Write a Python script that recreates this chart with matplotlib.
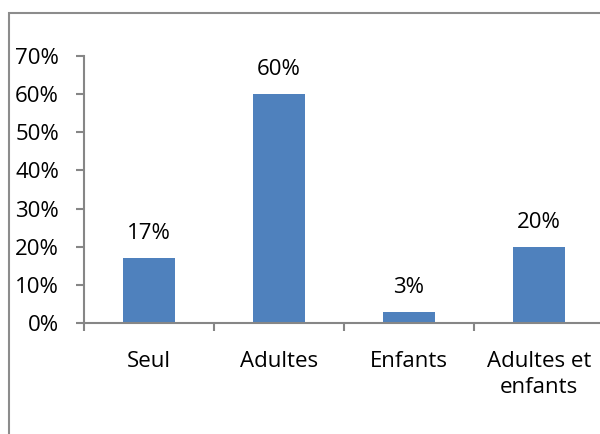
import matplotlib
matplotlib.use("Agg")
import matplotlib.pyplot as plt
from matplotlib.patches import Rectangle
import numpy as np

categories = ["Seul", "Adultes", "Enfants", "Adultes et\nenfants"]
values = [0.17, 0.60, 0.03, 0.20]
value_labels = ["17%", "60%", "3%", "20%"]
yticks = [0, 0.1, 0.2, 0.3, 0.4, 0.5, 0.6, 0.7]
ytick_labels = ["0%", "10%", "20%", "30%", "40%", "50%", "60%", "70%"]

plt.rcParams['font.family'] = ['Open Sans', 'DejaVu Sans']
fig = plt.figure(figsize=(6, 4.34), dpi=100)
ax = fig.add_axes([84/600, 111/434, 520/600, (323-56)/434])

x = np.arange(len(categories))
ax.bar(x, values, width=0.4, color="#4F81BD", zorder=2)
ax.set_xlim(-0.5, len(categories) - 0.5)
ax.set_ylim(0, 0.7)

for xi, v, lab in zip(x, values, value_labels):
    ax.annotate(lab, (xi, v), xytext=(0, 10), textcoords="offset points",
                ha="center", va="bottom", fontsize=16, color="black")

gray = "#868686"
for s in ["top", "right"]:
    ax.spines[s].set_visible(False)
for s in ["left", "bottom"]:
    ax.spines[s].set_color(gray)
    ax.spines[s].set_linewidth(1.5)
    ax.spines[s].set_clip_on(False)

ax.set_yticks(yticks)
ax.set_yticklabels(ytick_labels, fontsize=16)
ax.tick_params(axis="y", length=6, width=1.5, color=gray, pad=12)

ax.set_xticks(np.arange(-0.5, len(categories), 1.0))
ax.set_xticklabels([])
ax.set_xticks(x, minor=True)
ax.set_xticklabels(categories, minor=True, fontsize=16, linespacing=1.35)
ax.tick_params(axis="x", which="major", length=6, width=1.5, color=gray)
ax.tick_params(axis="x", which="minor", length=0, pad=20)
for t in ax.xaxis.get_minorticklabels():
    t.set_verticalalignment("top")

rect = Rectangle((9/600, -0.2), 1.5, 1 - 13/434 + 0.2, transform=fig.transFigure,
                 fill=False, edgecolor="#8c8c8c", linewidth=1.5, clip_on=False)
fig.patches.append(rect)

fig.savefig("out.png", dpi=100)
